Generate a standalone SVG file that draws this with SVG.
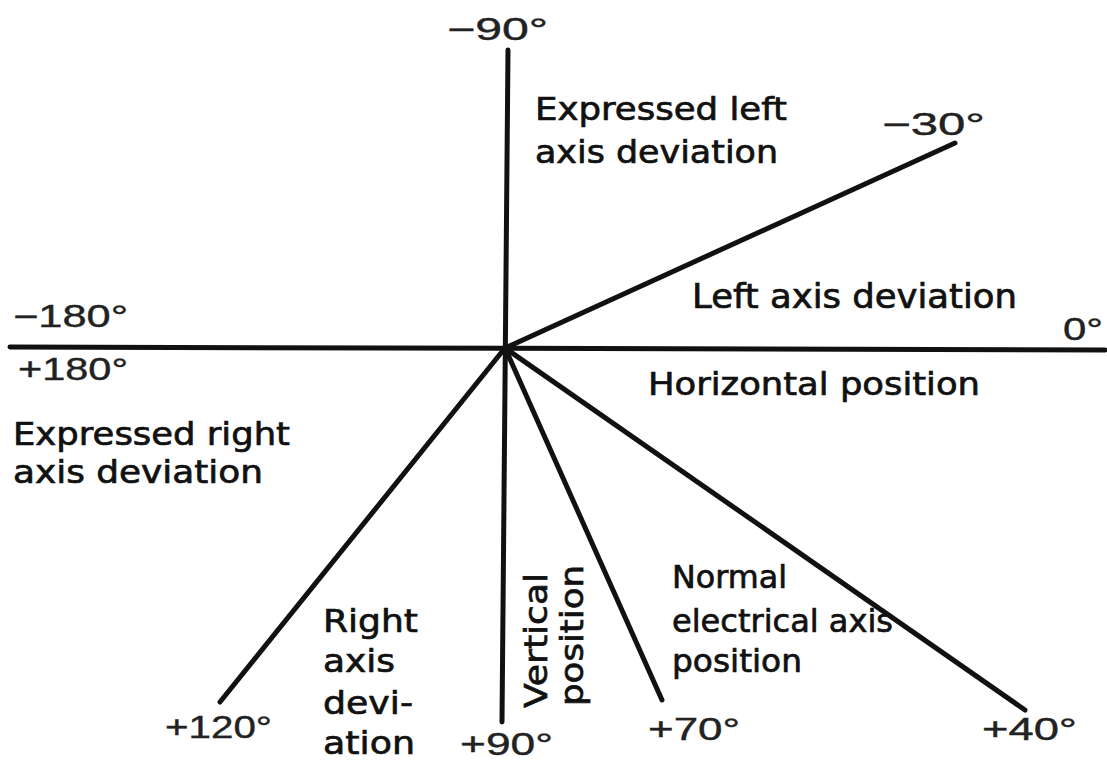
<svg xmlns="http://www.w3.org/2000/svg" width="1107" height="760" viewBox="0 0 1107 760">
  <style>
    .axis { stroke: #111; stroke-width: 5; stroke-linecap: round; fill: none; }
    .deg { font-family: "Liberation Sans", Arial, sans-serif; font-size: 31px; fill: #222; stroke: #222; stroke-width: 0.4; }
    .lbl { font-family: "DejaVu Sans", Verdana, sans-serif; font-size: 32px; fill: #111; stroke: #111; stroke-width: 0.7; }
  </style>
  <rect width="1107" height="760" fill="#ffffff"/>

  <!-- axis lines radiating from the centre -->
  <g id="connectors">
    <line class="axis" x1="10" y1="347" x2="1105" y2="350"/>
    <line class="axis" x1="508" y1="50" x2="502" y2="722"/>
    <line class="axis" x1="505" y1="348" x2="955" y2="143"/>
    <line class="axis" x1="505" y1="348" x2="220" y2="702"/>
    <line class="axis" x1="505" y1="348" x2="662" y2="700"/>
    <line class="axis" x1="505" y1="348" x2="1025" y2="710"/>
  </g>

  <!-- angle labels -->
  <g id="angles">
    <text class="deg" x="447" y="40" textLength="101" lengthAdjust="spacingAndGlyphs">−90°</text>
    <text class="deg" x="882" y="135" textLength="103" lengthAdjust="spacingAndGlyphs">−30°</text>
    <text class="deg" x="13" y="327" textLength="115" lengthAdjust="spacingAndGlyphs">−180°</text>
    <text class="deg" x="18" y="380" textLength="110" lengthAdjust="spacingAndGlyphs">+180°</text>
    <text class="deg" x="1063" y="340" textLength="40" lengthAdjust="spacingAndGlyphs">0°</text>
    <text class="deg" x="165" y="738" textLength="107" lengthAdjust="spacingAndGlyphs">+120°</text>
    <text class="deg" x="460" y="755" textLength="93" lengthAdjust="spacingAndGlyphs">+90°</text>
    <text class="deg" x="648" y="740" textLength="92" lengthAdjust="spacingAndGlyphs">+70°</text>
    <text class="deg" x="982" y="740" textLength="95" lengthAdjust="spacingAndGlyphs">+40°</text>
  </g>

  <!-- sector labels -->
  <g id="expressed-left">
    <text class="lbl" x="535" y="120" textLength="252" lengthAdjust="spacingAndGlyphs">Expressed left</text>
    <text class="lbl" x="535" y="163" textLength="243" lengthAdjust="spacingAndGlyphs">axis deviation</text>
  </g>
  <g id="left-axis">
    <text class="lbl" x="692" y="308" textLength="325" lengthAdjust="spacingAndGlyphs" style="font-size:33px">Left axis deviation</text>
  </g>
  <g id="horizontal">
    <text class="lbl" x="648" y="395" textLength="332" lengthAdjust="spacingAndGlyphs">Horizontal position</text>
  </g>
  <g id="expressed-right">
    <text class="lbl" x="13" y="445" textLength="277" lengthAdjust="spacingAndGlyphs">Expressed right</text>
    <text class="lbl" x="13" y="483" textLength="250" lengthAdjust="spacingAndGlyphs">axis deviation</text>
  </g>
  <g id="right-axis">
    <text class="lbl" x="323" y="632" textLength="95" lengthAdjust="spacingAndGlyphs">Right</text>
    <text class="lbl" x="323" y="672" textLength="72" lengthAdjust="spacingAndGlyphs">axis</text>
    <text class="lbl" x="323" y="714" textLength="90" lengthAdjust="spacingAndGlyphs">devi-</text>
    <text class="lbl" x="323" y="754" textLength="92" lengthAdjust="spacingAndGlyphs">ation</text>
  </g>
  <g id="vertical">
    <text class="lbl" transform="translate(547 708) rotate(-90)" textLength="135" lengthAdjust="spacingAndGlyphs">Vertical</text>
    <text class="lbl" transform="translate(583 706) rotate(-90)" textLength="141" lengthAdjust="spacingAndGlyphs">position</text>
  </g>
  <g id="normal">
    <text class="lbl" x="672" y="588" textLength="115" lengthAdjust="spacingAndGlyphs">Normal</text>
    <text class="lbl" x="672" y="632" textLength="221" lengthAdjust="spacingAndGlyphs">electrical axis</text>
    <text class="lbl" x="672" y="672" textLength="130" lengthAdjust="spacingAndGlyphs">position</text>
  </g>
</svg>
